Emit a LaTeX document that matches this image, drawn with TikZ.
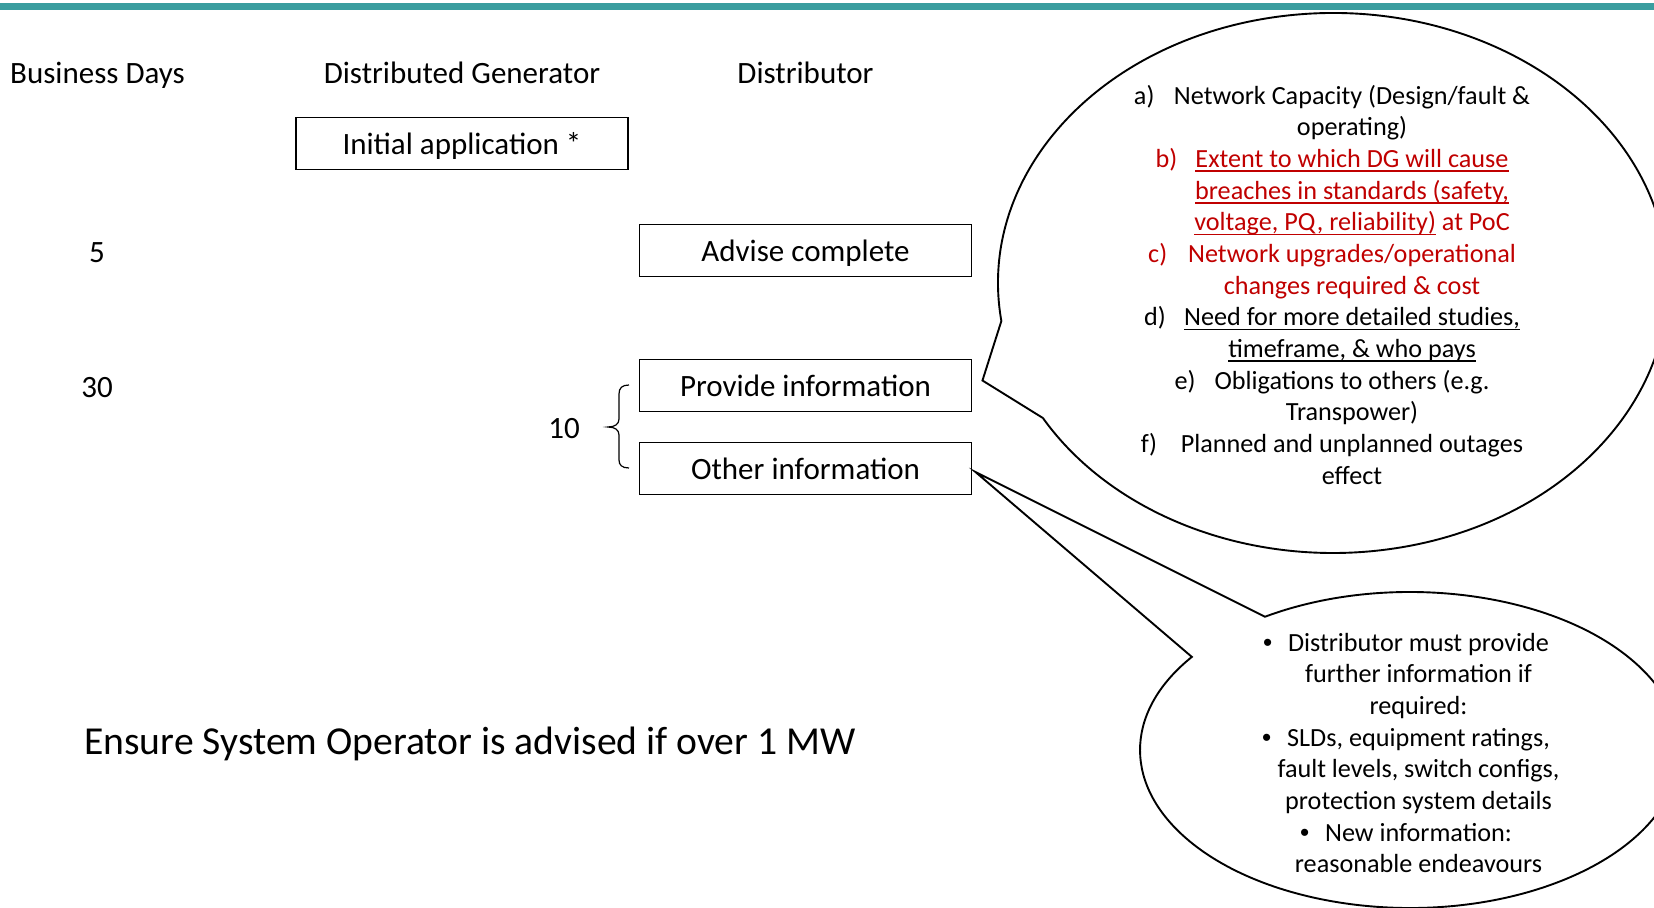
\documentclass[tikz,border=0pt]{standalone}
\usepackage{fontspec}
\setmainfont{Carlito}
\newfontfamily\arialf{Liberation Sans}
\usetikzlibrary{calc}
\definecolor{barteal}{HTML}{3A9D9F}
\definecolor{itemred}{HTML}{C00000}
\newcommand\ulx[1]{\leavevmode\setbox0=\hbox{#1}\rlap{\rule[-2.6pt]{\wd0}{0.85pt}}\box0\relax}
\newcommand\lbl[1]{\llap{\makebox[23.2pt][l]{#1}}}
\newcommand\bul{\llap{\makebox[14.5pt][l]{\arialf\textbullet}}}
\begin{document}
\begin{tikzpicture}[x=0.5804pt,y=-0.5804pt,
  lab/.style={inner sep=0pt, text height=12.5pt, text depth=0pt, font=\fontsize{18}{21.6}\selectfont},
  stepbox/.style={draw, line width=1.1pt, inner sep=0pt, text height=13pt, text depth=0pt, minimum width=332*0.5804pt, minimum height=52*0.5804pt, font=\fontsize{18}{21.6}\selectfont},
  callout/.style={draw, line width=1.1pt, line join=miter},
  ctext/.style={inner sep=0pt, align=center, font=\fontsize{15.2}{18.38}\selectfont}]
\clip (0,0) rectangle (1654,908);
\fill[barteal] (0,3) rectangle (1654,10.2);
% column headers
\node[lab] (hdays) at (97.5,73) {Business Days};
\node[lab] (hdg) at (462,73) {Distributed Generator};
\node[lab] (hdist) at (805.5,73) {Distributor};
% boxes
\node[stepbox] (init) at (462,143.5) {Initial application *};
\node[stepbox] (advise) at (805.5,250.5) {Advise complete};
\node[stepbox] (provide) at (805.5,385.5) {Provide information};
\node[stepbox] (other) at (805.5,468.5) {Other information};
% day numbers
\node[lab] (d5) at (97,252) {5};
\node[lab] (d30) at (97,387) {30};
\node[lab] (d10) at (564,428) {10};
% brace
\draw[line width=0.7pt] (629,385) .. controls (622,385) and (619,388) .. (619,394) -- (619,419)
  .. controls (619,424) and (615,427) .. (608,427)
  .. controls (615,427) and (619,430) .. (619,435) -- (619,460)
  .. controls (619,465) and (622,468) .. (629,468);
% bottom note
\node[inner sep=0pt, anchor=west, font=\fontsize{23}{27}\selectfont] (ensure) at (84,744) {Ensure System Operator is advised if over 1 MW};
% big callout
\coordinate (bc) at (1333,283);
\coordinate (btip) at ($(provide.east)+(10,-5)$);
\draw[callout] ($(bc)+(171.9:335 and 270)$) arc[start angle=171.9, end angle=510, x radius=335, y radius=270] -- (btip) -- cycle;
% small callout
\coordinate (sc) at (1410,750);
\coordinate (stip) at ($(other.east)+(3,3.5)$);
\draw[callout] ($(sc)+(237.5:270 and 158)$) arc[start angle=237.5, end angle=576.1, x radius=270, y radius=158] -- (stip) -- cycle;
% big callout text
\node[ctext] (bigtext) at (1352,287.8) {%
\lbl{a)}Network Capacity (Design/fault \&\strut\\
operating)\strut\\
\textcolor{itemred}{\lbl{b)}\ulx{Extent to which DG will cause}}\strut\\
\textcolor{itemred}{\ulx{breaches in standards (safety,}}\strut\\
\textcolor{itemred}{\ulx{voltage, PQ, reliability)} at PoC}\strut\\
\textcolor{itemred}{\lbl{c)}Network upgrades/operational}\strut\\
\textcolor{itemred}{changes required \& cost}\strut\\
\lbl{d)}\ulx{Need for more detailed studies,}\strut\\
\ulx{timeframe, \& who pays}\strut\\
\lbl{e)}Obligations to others (e.g.\strut\\
Transpower)\strut\\
\lbl{f)}Planned and unplanned outages\strut\\
effect\strut};
% small callout text
\node[ctext] (smalltext) at (1418.5,755.8) {%
\bul Distributor must provide\strut\\
further information if\strut\\
required:\strut\\
\bul SLDs, equipment ratings,\strut\\
fault levels, switch configs,\strut\\
protection system details\strut\\
\bul New information:\strut\\
reasonable endeavours\strut};
\end{tikzpicture}
\end{document}
